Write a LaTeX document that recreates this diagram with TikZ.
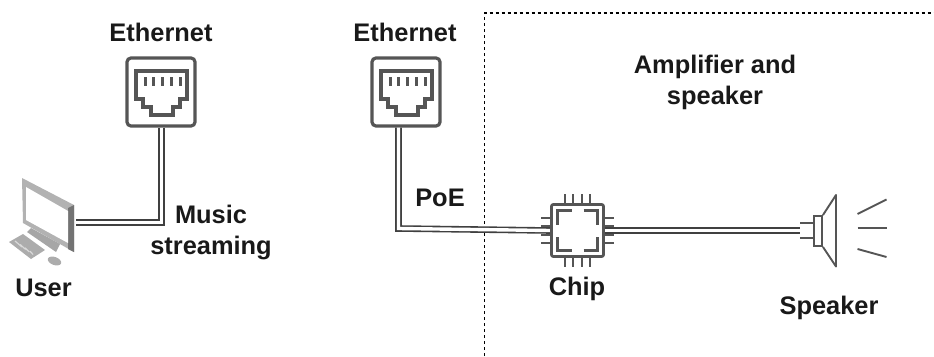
\documentclass[tikz,border=0pt]{standalone}
\usepackage{xcolor}
\usepackage{fontspec}
\setmainfont{Liberation Sans}
\usepackage{tikz}
\definecolor{icongray}{HTML}{555555}
\tikzset{
	label text/.style={font=\fontsize{25.4}{31}\selectfont\bfseries,text=black!90,align=center,inner sep=0pt},
	iconline/.style={draw=icongray,line width=2.6pt},
	thinline/.style={draw=icongray,line width=1.9pt},
	cable/.style={draw=black!75,line width=1.6pt,double=white,double distance=3.4pt},
	port box/.style={iconline,line width=3.2pt,fill=white,rounded corners=4pt,minimum size=68pt,inner sep=0pt},
	chip box/.style={iconline,fill=white,rounded corners=2pt,minimum size=52pt,inner sep=0pt},
	ghost box/.style={inner sep=0pt,minimum width=#1}
}
\newcommand{\rjfour}[1]{
	\begin{scope}[shift={(#1)}]
		\draw[iconline,line width=3.2pt] (-25,-21) -- (26,-21) -- (26,7) -- (19,7) -- (19,15) -- (12,15) -- (12,23) -- (-10,23) -- (-10,15) -- (-18,15) -- (-18,7) -- (-25,7) -- cycle;
		\foreach \px in {-16,-7.2,1.5,10.2,19}
			\draw[iconline,line width=3pt] (\px,-15) -- (\px,-6);
	\end{scope}
}
\begin{document}
\begin{tikzpicture}[x=1pt,y=-1pt]
	\useasboundingbox (0,0) rectangle (934,356);
	% amplifier boundary
	\draw[black,line width=1.2pt,dash pattern=on 3pt off 3pt] (484.5,356) -- (484.5,13) -- (934,13);
	% ports
	\node[port box] (portleft) at (161,92) {};
	\node[port box] (portright) at (406,92) {};
	\rjfour{161,92}
	\rjfour{406,92}
	\node[label text] (ethleft) at (161,32) {Ethernet};
	\node[label text] (ethright) at (405,32) {Ethernet};
	% user computer
	\node[ghost box=72pt] (user) at (40,222.5) {};
	\fill[gray!60] (22,178) -- (74,205) -- (74,252) -- (23,223) -- cycle;
	\fill[gray!90!black] (68,208) -- (74,205) -- (74,252) -- (68,249) -- cycle;
	\fill[white] (26,187) -- (68,211) -- (68,243) -- (26,220) -- cycle;
	\fill[gray!70] (27,232) -- (31,228) -- (60,244) -- (56,252) -- cycle;
	\fill[gray!65] (9,242) -- (23,234) -- (45,250) -- (31,259) -- cycle;
	\foreach \kx in {0,1,2,3}
		\draw[gray!30,line width=1.2pt] (15+\kx*5,241+\kx*3.4) -- (22+\kx*3.7,247+\kx*2.5);
	\fill[gray!65,rotate around={-20:(54.5,261)}] (54.5,261) ellipse [x radius=7pt,y radius=4pt];
	\node[label text] (userlabel) at (43.5,288) {User};
	\node[label text] (musiclabel) at (211,232) {Music\\streaming};
	% chip
	\node[chip box] (chip) at (577.5,230.5) {};
	\coordinate (poebend) at (398.5,228.5);
	\coordinate (spkin) at (800,230.5);
	\draw[cable] ([xshift=0.5pt]portleft.south) -- ([xshift=0.5pt]portleft.south |- user.east) -- (user.east);
	\draw[cable] ([xshift=-7.5pt]portright.south) -- (poebend) -- (chip.west);
	\draw[cable] (chip.east) -- (spkin);
	\node[chip box] at (chip) {};
	\foreach \pin in {-12.5,-4.2,4.2,12.5} {
		\draw[thinline] ([yshift=\pin pt]chip.west) -- ++(-9,0);
		\draw[thinline] ([yshift=\pin pt]chip.east) -- ++(9,0);
		\draw[thinline] ([xshift=\pin pt]chip.north) -- ++(0,-9);
		\draw[thinline] ([xshift=\pin pt]chip.south) -- ++(0,9);
	}
	\begin{scope}[shift={(chip.center)}]
		\foreach \sx/\sy in {1/1,1/-1,-1/1,-1/-1}
			\draw[iconline] (\sx*6,\sy*20) -- (\sx*20,\sy*20) -- (\sx*20,\sy*6);
	\end{scope}
	\node[label text] (chiplabel) at (577,289) {Chip};
	% speaker
	\node[thinline,fill=white,minimum width=8pt,minimum height=30pt,inner sep=0pt] (speaker) at (818,231) {};
	\draw[thinline,line join=round] (speaker.north east) -- (836,195) -- (836,266.5) -- (speaker.south east);
	\draw[thinline] (speaker.west |- 0,223) -- (800,223);
	\draw[thinline] (speaker.west |- 0,238) -- (800,238);
	\draw[thinline] (857.5,214) -- (886.5,199.5);
	\draw[thinline] (857.5,228) -- (886.5,228);
	\draw[thinline] (857.5,249) -- (886.5,257);
	\node[label text] (speakerlabel) at (829,308) {Speaker};
	% other labels
	\node[label text] (poelabel) at (440,198) {PoE};
	\node[label text] (amplabel) at (715,82) {Amplifier and\\speaker};
\end{tikzpicture}
\end{document}
